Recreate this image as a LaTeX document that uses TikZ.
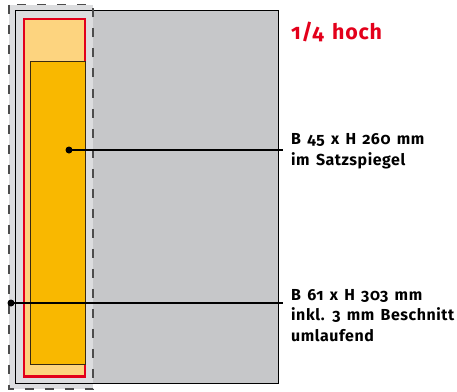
\documentclass[tikz,border=0pt]{standalone}
\usepackage{fontspec}
\setmainfont{Fira Sans}[Numbers=OldStyle, LetterSpace=3.5, WordSpace=1.45]
\definecolor{pagegray}{HTML}{C6C7C9}
\definecolor{bleedgray}{HTML}{DCDDDF}
\definecolor{lightorange}{HTML}{FDD47F}
\definecolor{adorange}{HTML}{F9B800}
\definecolor{adred}{HTML}{E3001B}
\definecolor{innerline}{HTML}{3A2A10}
\tikzset{
  pagebox/.style={draw=black, line width=1bp},
  bleedbox/.style={draw=black!70, line width=1.1bp, dash pattern=on 9bp off 11bp},
  redbox/.style={draw=adred, fill=lightorange, line width=2.2bp},
  innerbox/.style={draw=innerline, fill=adorange, line width=1bp},
  leader/.style={draw=black, line width=1.6bp},
  dotmark/.style={circle, fill=black, inner sep=0pt, minimum size=7bp},
  labeltext/.style={anchor=base west, inner sep=0pt, align=left, font=\fontsize{16}{20.8}\selectfont\bfseries},
  titletext/.style={anchor=base west, inner sep=0pt, text=adred, font=\fontsize{21.5}{24}\selectfont\bfseries}
}
\begin{document}
\begin{tikzpicture}[x=1bp,y=-1bp]
\useasboundingbox (0,0) rectangle (457,391);
% page
\fill[pagegray] (15,10) rectangle (278,383);
% bleed area
\fill[bleedgray] (9,4.5) rectangle (93,389);
\draw[pagebox] (15,10) rectangle (278,383);
\draw[bleedbox] (9,4.5) rectangle (93,389);
% ad areas
\draw[redbox] (24,19) rectangle (85,376.5);
\draw[innerbox] (30.7,61.7) rectangle (85.5,364);
% leaders
\node[dotmark] (dotA) at (69,150) {};
\node[dotmark] (dotB) at (11,303) {};
\coordinate (endA) at (283,150);
\coordinate (endB) at (283,303);
\draw[leader] (dotA.center) -- (endA);
\draw[leader] (dotB.center) -- (endB);
% texts
\node[titletext] (title) at (291,39.5) {1/4 hoch};
\node[labeltext] (labA) at (291,165.7) {B 45 x H 260 mm\\im Satzspiegel};
\node[labeltext] (labB) at (291,341.7) {B 61 x H 303 mm\\inkl. 3 mm Beschnitt\\umlaufend};
\end{tikzpicture}
\end{document}
